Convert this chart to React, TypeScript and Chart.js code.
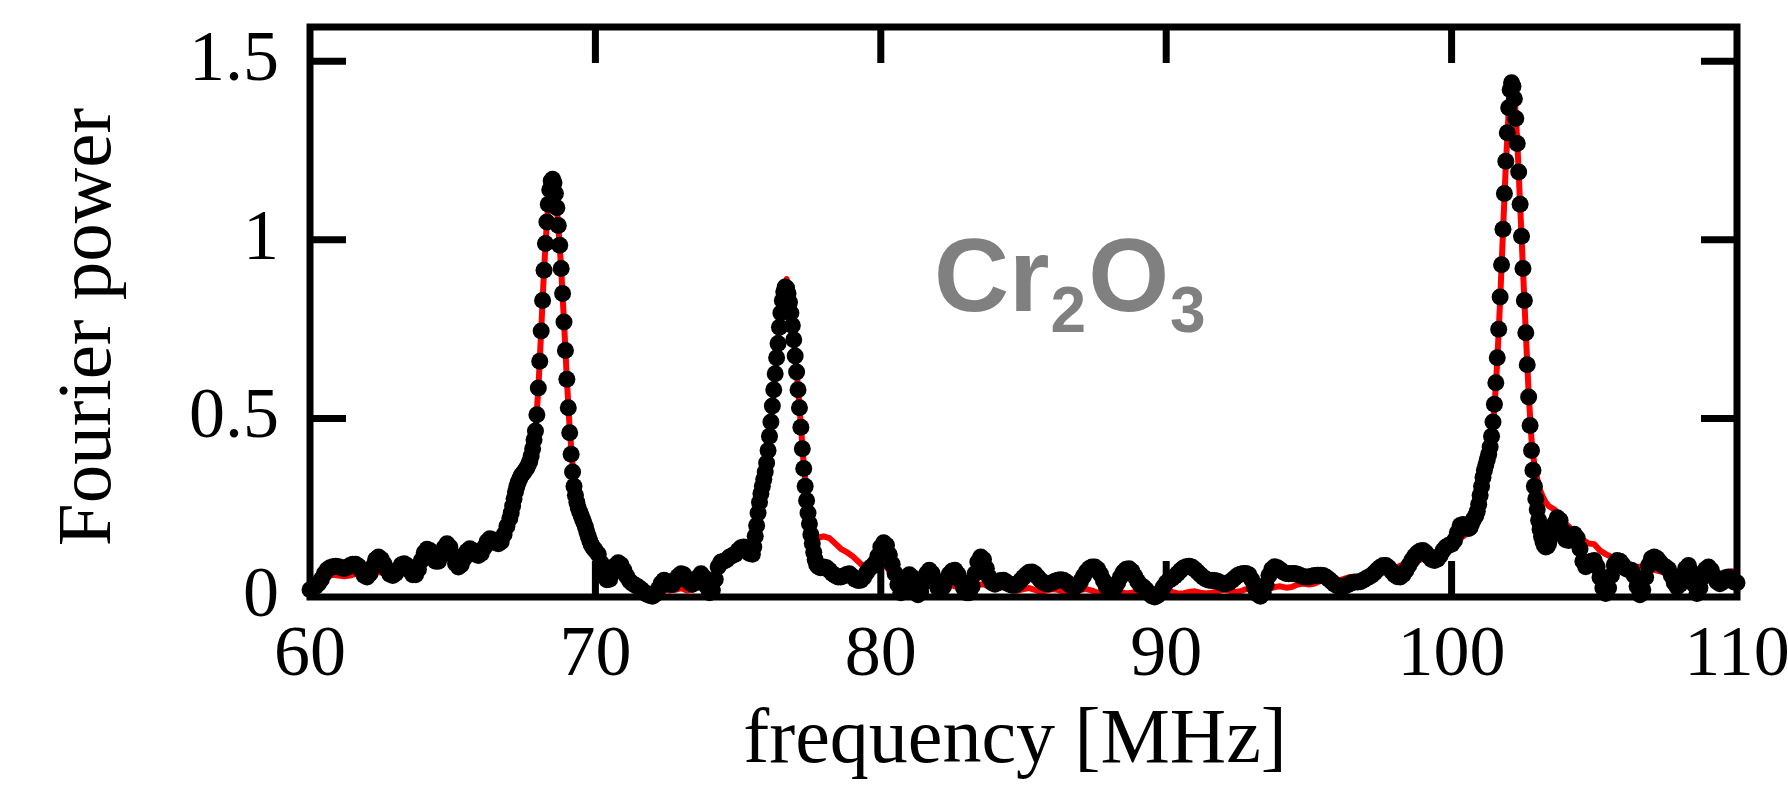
import React, { useEffect, useRef } from "react";
import { Chart, registerables } from "chart.js";

Chart.register(...registerables);

// ---- axes / ticks ----
const X_MIN = 60;
const X_MAX = 110;
const Y_MIN = 0;
const Y_MAX = 1.596;
const X_TICKS = [60, 70, 80, 90, 100, 110];
const Y_TICKS = [0, 0.5, 1, 1.5];
const Y_TICK_LABELS = ["0", "0.5", "1", "1.5"];
const X_TITLE = "frequency [MHz]";
const Y_TITLE = "Fourier power";
const LABEL_MAIN = ["Cr", "O"];
const LABEL_SUB = ["2", "3"];

// ---- measured spectrum (black dots), sampled on the measurement grid ----
const blackBase1 = [
  0.02, 0.025, 0.03, 0.038, 0.05, 0.065, 0.076, 0.082, 0.085, 0.086,
  0.085, 0.082, 0.08, 0.083, 0.088, 0.092, 0.092, 0.086, 0.074, 0.06,
  0.056, 0.065, 0.085, 0.105, 0.112, 0.106, 0.092, 0.076, 0.064, 0.06,
  0.066, 0.078, 0.09, 0.093, 0.088, 0.074, 0.062, 0.062, 0.078, 0.102,
  0.124, 0.134, 0.13, 0.114, 0.1, 0.1, 0.115, 0.138, 0.149, 0.14,
  0.118, 0.094, 0.084, 0.09, 0.108, 0.128, 0.135, 0.13, 0.12, 0.116,
  0.122, 0.138, 0.155, 0.163, 0.16, 0.152, 0.149, 0.155, 0.175, 0.198,
];
const blackPeak1 = [
  0.22, 0.235, 0.255, 0.275, 0.295, 0.31, 0.322, 0.332, 0.34, 0.345,
  0.35, 0.356, 0.362, 0.37, 0.38, 0.395, 0.415, 0.44, 0.465, 0.51,
  0.585, 0.66, 0.745, 0.83, 0.915, 0.99, 1.05, 1.1, 1.14, 1.165,
  1.17, 1.16, 1.13, 1.09, 1.04, 0.985, 0.92, 0.85, 0.77, 0.69,
  0.61, 0.53, 0.46, 0.4, 0.35, 0.31, 0.285, 0.265, 0.25, 0.238,
  0.228, 0.218, 0.208, 0.196, 0.183, 0.17, 0.158, 0.148, 0.14, 0.135,
  0.13,
];
const blackBase2 = [
  0.12, 0.095, 0.065, 0.048, 0.05, 0.068, 0.088, 0.096, 0.09, 0.075,
  0.058, 0.045, 0.038, 0.033, 0.028, 0.022, 0.015, 0.008, 0.004, 0.002,
  0.008, 0.022, 0.038, 0.047, 0.044, 0.036, 0.035, 0.045, 0.058, 0.065,
  0.062, 0.05, 0.04, 0.036, 0.04, 0.055, 0.065, 0.055, 0.03, 0.012,
  0.02, 0.05, 0.085, 0.098, 0.1, 0.104, 0.112, 0.116, 0.12, 0.13,
  0.138, 0.14, 0.132, 0.122,
];
const blackPeak2 = [
  0.12, 0.14, 0.17, 0.2, 0.235, 0.265, 0.29, 0.31, 0.33, 0.35,
  0.375, 0.41, 0.45, 0.49, 0.535, 0.58, 0.625, 0.67, 0.71, 0.755,
  0.795, 0.83, 0.855, 0.868, 0.865, 0.85, 0.825, 0.795, 0.76, 0.72,
  0.675, 0.63, 0.58, 0.53, 0.475, 0.415, 0.36, 0.31, 0.27, 0.235,
  0.205, 0.175, 0.15, 0.125, 0.105, 0.092, 0.086, 0.083, 0.082, 0.083,
  0.084,
];
const blackBase3 = [
  0.082, 0.075, 0.066, 0.06, 0.056, 0.056, 0.059, 0.063, 0.065, 0.058,
  0.05, 0.046, 0.047, 0.055, 0.068, 0.08, 0.086, 0.095, 0.115, 0.14,
  0.152, 0.145, 0.118, 0.092, 0.066, 0.035, 0.012, 0.02, 0.045, 0.062,
  0.055, 0.028, 0.006, 0.015, 0.04, 0.065, 0.075, 0.066, 0.045, 0.025,
  0.019, 0.03, 0.048, 0.064, 0.073, 0.075, 0.064, 0.045, 0.025, 0.012,
  0.012, 0.03, 0.065, 0.098, 0.112, 0.105, 0.08, 0.055, 0.04, 0.036,
  0.04, 0.046, 0.047, 0.042, 0.036, 0.033, 0.033, 0.038, 0.046, 0.055,
  0.063, 0.069, 0.07, 0.065, 0.056, 0.047, 0.04, 0.037, 0.037, 0.04,
  0.044, 0.047, 0.048, 0.047, 0.042, 0.035, 0.03, 0.028, 0.033, 0.044,
  0.058, 0.071, 0.08, 0.084, 0.084, 0.078, 0.064, 0.046, 0.03, 0.021,
  0.019, 0.026, 0.04, 0.056, 0.07, 0.078, 0.079, 0.072, 0.058, 0.044,
  0.033, 0.028, 0.02, 0.01, 0.003, 0.0, 0.004, 0.014, 0.028, 0.04,
  0.047, 0.052, 0.058, 0.066, 0.074, 0.081, 0.085, 0.086, 0.084, 0.078,
  0.07, 0.062, 0.055, 0.05, 0.047, 0.046, 0.046, 0.044, 0.04, 0.037,
  0.037, 0.04, 0.046, 0.053, 0.06, 0.064, 0.066, 0.066, 0.062, 0.048,
  0.026, 0.008, 0.002, 0.012, 0.035, 0.06, 0.078, 0.085, 0.082, 0.076,
  0.07, 0.066, 0.065, 0.066, 0.066, 0.064, 0.06, 0.057, 0.056, 0.056,
  0.058, 0.06, 0.061, 0.061, 0.06, 0.056, 0.05, 0.043, 0.036, 0.031,
  0.028, 0.029, 0.032, 0.036, 0.04, 0.042, 0.042, 0.043, 0.047, 0.052,
  0.056, 0.061, 0.068, 0.076, 0.083, 0.088, 0.088, 0.082, 0.072, 0.062,
  0.057, 0.056, 0.062, 0.074, 0.088, 0.102, 0.114, 0.123, 0.129, 0.13,
  0.124, 0.114, 0.105, 0.102, 0.106, 0.116, 0.13, 0.14, 0.145, 0.148,
  0.158, 0.18, 0.2, 0.203,
];
const blackPeak3 = [
  0.2, 0.196, 0.192, 0.195, 0.205, 0.215, 0.222, 0.228, 0.24, 0.26,
  0.285, 0.31, 0.335, 0.355, 0.37, 0.385, 0.4, 0.42, 0.45, 0.49,
  0.54, 0.6, 0.67, 0.75, 0.84, 0.93, 1.03, 1.13, 1.22, 1.3,
  1.37, 1.42, 1.44, 1.43, 1.395, 1.34, 1.27, 1.19, 1.1, 1.01,
  0.92, 0.83, 0.74, 0.65, 0.56, 0.48, 0.41, 0.355, 0.31, 0.275,
  0.245, 0.215, 0.19, 0.17, 0.155, 0.145, 0.14, 0.142, 0.15, 0.165,
  0.185,
];
const blackBase4 = [
  0.205, 0.222, 0.215, 0.185, 0.16, 0.158, 0.17, 0.176, 0.165, 0.135,
  0.1, 0.085, 0.09, 0.1, 0.102, 0.085, 0.055, 0.025, 0.01, 0.025,
  0.06, 0.09, 0.102, 0.1, 0.09, 0.08, 0.076, 0.075, 0.06, 0.03,
  0.006, 0.02, 0.055, 0.088, 0.108, 0.112, 0.108, 0.098, 0.088, 0.084,
  0.078, 0.06, 0.04, 0.028, 0.035, 0.06, 0.08, 0.088, 0.07, 0.035,
  0.01, 0.025, 0.055, 0.078, 0.084, 0.075, 0.058, 0.043, 0.037, 0.042,
  0.054, 0.056, 0.048, 0.042, 0.04,
];

// ---- fit / simulation (red line) ----
const redBase1 = [
  0.02, 0.03, 0.045, 0.058, 0.062, 0.06, 0.058, 0.06, 0.065, 0.062,
  0.058, 0.062, 0.07, 0.068, 0.062, 0.064, 0.072, 0.076, 0.074, 0.08,
  0.095, 0.105, 0.1, 0.105, 0.118, 0.115, 0.108, 0.115, 0.128, 0.13,
  0.132, 0.145, 0.155, 0.16, 0.18,
];
const redPeak1 = [
  0.21, 0.24, 0.275, 0.305, 0.325, 0.345, 0.36, 0.38, 0.415, 0.47,
  0.58, 0.745, 0.915, 1.05, 1.14, 1.165, 1.13, 1.04, 0.92, 0.77,
  0.61, 0.47, 0.37, 0.31, 0.275, 0.25, 0.225, 0.2, 0.18, 0.165,
  0.15,
];
const redBase2 = [
  0.12, 0.085, 0.065, 0.06, 0.055, 0.045, 0.035, 0.025, 0.018, 0.015,
  0.015, 0.02, 0.018, 0.02, 0.025, 0.018, 0.02, 0.03, 0.035, 0.045,
  0.06, 0.08, 0.095, 0.105, 0.115, 0.125, 0.13,
];
const redPeak2 = [
  0.14, 0.17, 0.22, 0.28, 0.33, 0.38, 0.455, 0.54, 0.63, 0.72,
  0.81, 0.87, 0.89, 0.85, 0.77, 0.68, 0.585, 0.48, 0.37, 0.29,
  0.23, 0.19, 0.17, 0.165, 0.168, 0.17,
];
const redBase3 = [
  0.165, 0.15, 0.135, 0.126, 0.115, 0.1, 0.085, 0.075, 0.08, 0.09,
  0.085, 0.06, 0.045, 0.045, 0.04, 0.035, 0.03, 0.035, 0.03, 0.025,
  0.03, 0.035, 0.03, 0.025, 0.025, 0.03, 0.035, 0.035, 0.03, 0.025,
  0.028, 0.025, 0.02, 0.018, 0.022, 0.025, 0.02, 0.015, 0.018, 0.022,
  0.02, 0.015, 0.012, 0.015, 0.02, 0.022, 0.018, 0.012, 0.012, 0.016,
  0.018, 0.014, 0.01, 0.012, 0.016, 0.014, 0.01, 0.008, 0.012, 0.016,
  0.014, 0.01, 0.01, 0.014, 0.016, 0.012, 0.01, 0.012, 0.016, 0.02,
  0.018, 0.014, 0.016, 0.022, 0.025, 0.02, 0.018, 0.022, 0.028, 0.03,
  0.026, 0.028, 0.035, 0.038, 0.035, 0.038, 0.045, 0.048, 0.045, 0.045,
  0.05, 0.055, 0.055, 0.055, 0.06, 0.066, 0.07, 0.072, 0.075, 0.08,
  0.088, 0.093, 0.095, 0.1, 0.108, 0.112, 0.113, 0.118, 0.128, 0.14,
  0.155, 0.17,
];
const redPeak3 = [
  0.175, 0.18, 0.19, 0.205, 0.225, 0.255, 0.29, 0.33, 0.38, 0.44,
  0.53, 0.66, 0.83, 1.02, 1.21, 1.36, 1.445, 1.41, 1.28, 1.1,
  0.92, 0.74, 0.57, 0.44, 0.37, 0.33, 0.3, 0.28, 0.265, 0.255,
  0.25,
];
const redBase4 = [
  0.245, 0.23, 0.205, 0.19, 0.18, 0.16, 0.15, 0.148, 0.13, 0.12,
  0.112, 0.11, 0.1, 0.09, 0.085, 0.085, 0.082, 0.078, 0.074, 0.07,
  0.066, 0.062, 0.06, 0.058, 0.056, 0.055, 0.056, 0.058, 0.06, 0.062,
  0.068, 0.072, 0.07,
];

// sampling grid of each block: start frequency (MHz) and step (MHz)
const blackSegments = [
  { start: 60.0, step: 0.1, values: blackBase1 },
  { start: 67.0, step: 0.05, values: blackPeak1 },
  { start: 70.1, step: 0.1, values: blackBase2 },
  { start: 75.5, step: 0.05, values: blackPeak2 },
  { start: 78.1, step: 0.1, values: blackBase3 },
  { start: 100.5, step: 0.05, values: blackPeak3 },
  { start: 103.6, step: 0.1, values: blackBase4 },
];
const redSegments = [
  { start: 60.0, step: 0.2, values: redBase1 },
  { start: 67.0, step: 0.1, values: redPeak1 },
  { start: 70.2, step: 0.2, values: redBase2 },
  { start: 75.5, step: 0.1, values: redPeak2 },
  { start: 78.2, step: 0.2, values: redBase3 },
  { start: 100.5, step: 0.1, values: redPeak3 },
  { start: 103.6, step: 0.2, values: redBase4 },
];

function toPoints(segs: { start: number; step: number; values: number[] }[]) {
  const pts: { x: number; y: number }[] = [];
  for (const s of segs) {
    s.values.forEach((v, i) => {
      pts.push({ x: Math.round((s.start + i * s.step) * 1000) / 1000, y: v });
    });
  }
  return pts;
}

const W = 1788;
const H = 787;
const TICK_LEN = 36;
const SERIF = '"Liberation Serif", "Times New Roman", serif';
const SANS = '"Liberation Sans", Arial, sans-serif';

const framePlugin = {
  id: "frameAndText",
  afterDatasetsDraw(chart: any) {
    const { ctx, chartArea, scales } = chart;
    const { left, right, top, bottom } = chartArea;
    const xs = scales.x;
    const ys = scales.y;
    ctx.save();
    ctx.strokeStyle = "#000";
    ctx.lineWidth = 7;
    ctx.lineCap = "butt";
    ctx.beginPath();
    for (const v of X_TICKS) {
      if (v === X_MIN || v === X_MAX) continue;
      const px = xs.getPixelForValue(v);
      ctx.moveTo(px, bottom);
      ctx.lineTo(px, bottom - TICK_LEN);
      ctx.moveTo(px, top);
      ctx.lineTo(px, top + TICK_LEN);
    }
    for (const v of Y_TICKS) {
      if (v === Y_MIN) continue;
      const py = ys.getPixelForValue(v);
      ctx.moveTo(left, py);
      ctx.lineTo(left + TICK_LEN, py);
      ctx.moveTo(right, py);
      ctx.lineTo(right - TICK_LEN, py);
    }
    ctx.stroke();
    ctx.lineJoin = "miter";
    ctx.strokeRect(left, top, right - left, bottom - top);

    // axis titles
    ctx.fillStyle = "#000";
    ctx.font = `78px ${SERIF}`;
    ctx.textAlign = "center";
    ctx.textBaseline = "alphabetic";
    ctx.fillText(X_TITLE, 1015, 762);

    ctx.save();
    ctx.translate(110, 327);
    ctx.rotate(-Math.PI / 2);
    ctx.font = `77px ${SERIF}`;
    ctx.fillText(Y_TITLE, 0, 0);
    ctx.restore();

    // compound label
    ctx.fillStyle = "#808080";
    ctx.textAlign = "left";
    let x = 934;
    const baseMain = 311;
    const baseSub = 332;
    for (let i = 0; i < LABEL_MAIN.length; i++) {
      ctx.font = `bold 104px ${SANS}`;
      ctx.fillText(LABEL_MAIN[i], x, baseMain);
      x += ctx.measureText(LABEL_MAIN[i]).width + 1;
      ctx.font = `bold 64px ${SANS}`;
      ctx.fillText(LABEL_SUB[i], x, baseSub);
      x += ctx.measureText(LABEL_SUB[i]).width + 2;
    }
    ctx.restore();
  },
};

export default function App() {
  const canvasRef = useRef<HTMLCanvasElement | null>(null);

  useEffect(() => {
    const canvas = canvasRef.current;
    if (!canvas) return;
    const chart = new Chart(canvas, {
      type: "scatter",
      data: {
        datasets: [
          {
            label: "data",
            data: toPoints(blackSegments),
            showLine: false,
            pointRadius: 8.5,
            pointHoverRadius: 8.5,
            pointBackgroundColor: "#000",
            pointBorderWidth: 0,
            backgroundColor: "#000",
            borderColor: "#000",
            order: 0,
            clip: 14,
          },
          {
            label: "fit",
            data: toPoints(redSegments),
            showLine: true,
            pointRadius: 0,
            borderColor: "#ff0000",
            borderWidth: 6,
            borderJoinStyle: "round",
            borderCapStyle: "round",
            tension: 0,
            order: 1,
            clip: 14,
          },
        ],
      },
      options: {
        animation: false,
        responsive: false,
        devicePixelRatio: 1,
        events: [],
        layout: { padding: { top: 27, right: 51, left: 0, bottom: 0 } },
        plugins: {
          legend: { display: false },
          tooltip: { enabled: false },
          title: { display: false },
        },
        scales: {
          x: {
            type: "linear",
            min: X_MIN,
            max: X_MAX,
            grid: { display: false, drawTicks: false },
            border: { display: false },
            afterBuildTicks: (scale: any) => {
              scale.ticks = X_TICKS.map((v) => ({ value: v }));
            },
            afterFit: (scale: any) => {
              scale.height = 190;
              scale.paddingLeft = 0;
              scale.paddingRight = 0;
            },
            ticks: {
              autoSkip: false,
              maxRotation: 0,
              minRotation: 0,
              padding: 16,
              color: "#000",
              font: { family: SERIF, size: 72 },
              callback: (v: any) => String(v),
            },
          },
          y: {
            type: "linear",
            min: Y_MIN,
            max: Y_MAX,
            grid: { display: false, drawTicks: false },
            border: { display: false },
            afterBuildTicks: (scale: any) => {
              scale.ticks = Y_TICKS.map((v) => ({ value: v }));
            },
            afterFit: (scale: any) => {
              scale.width = 310;
              scale.paddingTop = 0;
              scale.paddingBottom = 0;
            },
            ticks: {
              autoSkip: false,
              padding: 31,
              color: "#000",
              font: { family: SERIF, size: 72 },
              callback: (v: any) => {
                const i = Y_TICKS.indexOf(Number(v));
                return i >= 0 ? Y_TICK_LABELS[i] : "";
              },
            },
          },
        },
      },
      plugins: [framePlugin],
    });
    return () => chart.destroy();
  }, []);

  return (
    <div style={{ position: "absolute", left: 0, top: 0, width: W, height: H, background: "#fff" }}>
      <canvas ref={canvasRef} width={W} height={H} style={{ display: "block", width: W, height: H }} />
    </div>
  );
}
